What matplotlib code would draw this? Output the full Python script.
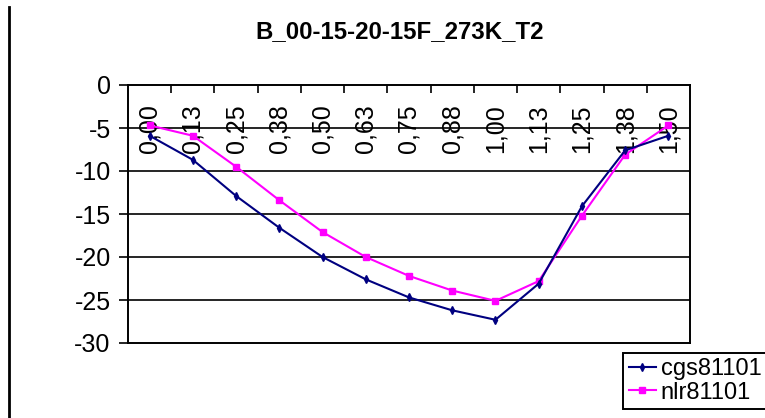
import matplotlib
matplotlib.use("Agg")
import matplotlib.pyplot as plt
from matplotlib.lines import Line2D
from matplotlib.ticker import FixedLocator

plt.rcParams['font.family'] = ['Liberation Sans', 'DejaVu Sans']

title = "B_00-15-20-15F_273K_T2"
categories = ["0,00", "0,13", "0,25", "0,38", "0,50", "0,63", "0,75",
              "0,88", "1,00", "1,13", "1,25", "1,38", "1,50"]
cgs81101 = [-5.9, -8.7, -12.9, -16.6, -20.0, -22.6, -24.7,
            -26.2, -27.3, -23.1, -14.1, -7.6, -5.9]
nlr81101 = [-4.7, -5.9, -9.5, -13.4, -17.1, -20.0, -22.2,
            -23.9, -25.1, -22.8, -15.2, -8.1, -4.7]
y_ticks = [0, -5, -10, -15, -20, -25, -30]

W, H = 765, 418
fig = plt.figure(figsize=(W / 100, H / 100), dpi=100)
ax = fig.add_axes([128 / W, 1 - 343 / H, (690 - 128) / W, (343 - 85) / H])

x = list(range(len(categories)))
ax.plot(x, cgs81101, color="#000080", lw=1.5, marker="d", ms=4,
        mfc="#000080", mec="#000080", label="cgs81101", zorder=4)
ax.plot(x, nlr81101, color="#FF00FF", lw=1.5, marker="s", ms=4.5,
        mfc="#FF00FF", mec="#FF00FF", label="nlr81101", zorder=3)

ax.set_xlim(-0.5, len(categories) - 0.5)
ax.set_ylim(-30, 0)

# horizontal gridlines
for v in y_ticks[1:-1]:
    ax.axhline(v, color="black", lw=1.2, zorder=1)

for s in ax.spines.values():
    s.set_color("black")
    s.set_linewidth(1.4)

ax.set_yticks(y_ticks)
ax.set_yticklabels([str(v) for v in y_ticks])
ax.tick_params(axis="y", direction="out", length=6.5, width=1.2,
               labelsize=18, pad=6)

# category axis sits on the top edge (value 0), labels hang inside the plot
ax.xaxis.set_ticks_position("top")
ax.set_xticks(x)
ax.set_xticklabels(categories, rotation=90)
ax.xaxis.set_minor_locator(FixedLocator([i - 0.5 for i in range(1, len(categories))]))
ax.tick_params(axis="x", which="major", length=0, labelsize=18,
               labeltop=True, labelbottom=False, pad=-49)
ax.tick_params(axis="x", which="minor", direction="in", length=6,
               width=1.2, top=True, bottom=False)

fig.text(400 / W, 1 - 32 / H, title, ha="center", va="center",
         fontsize=17.3, fontweight="bold")

# left border line of the chart area
fig.add_artist(Line2D([8.5 / W, 8.5 / W], [0, 1 - 7 / H],
                      transform=fig.transFigure, color="black", lw=2))

leg = ax.legend(loc="upper left", bbox_to_anchor=(623 / W, 1 - 352.5 / H),
                bbox_transform=fig.transFigure, fontsize=17, frameon=True,
                fancybox=False, edgecolor="black", framealpha=1,
                handlelength=1.15, handletextpad=0.2, borderpad=0.25,
                labelspacing=0.05, borderaxespad=0)
leg.get_frame().set_linewidth(1.4)

fig.savefig("out.png", dpi=100)
